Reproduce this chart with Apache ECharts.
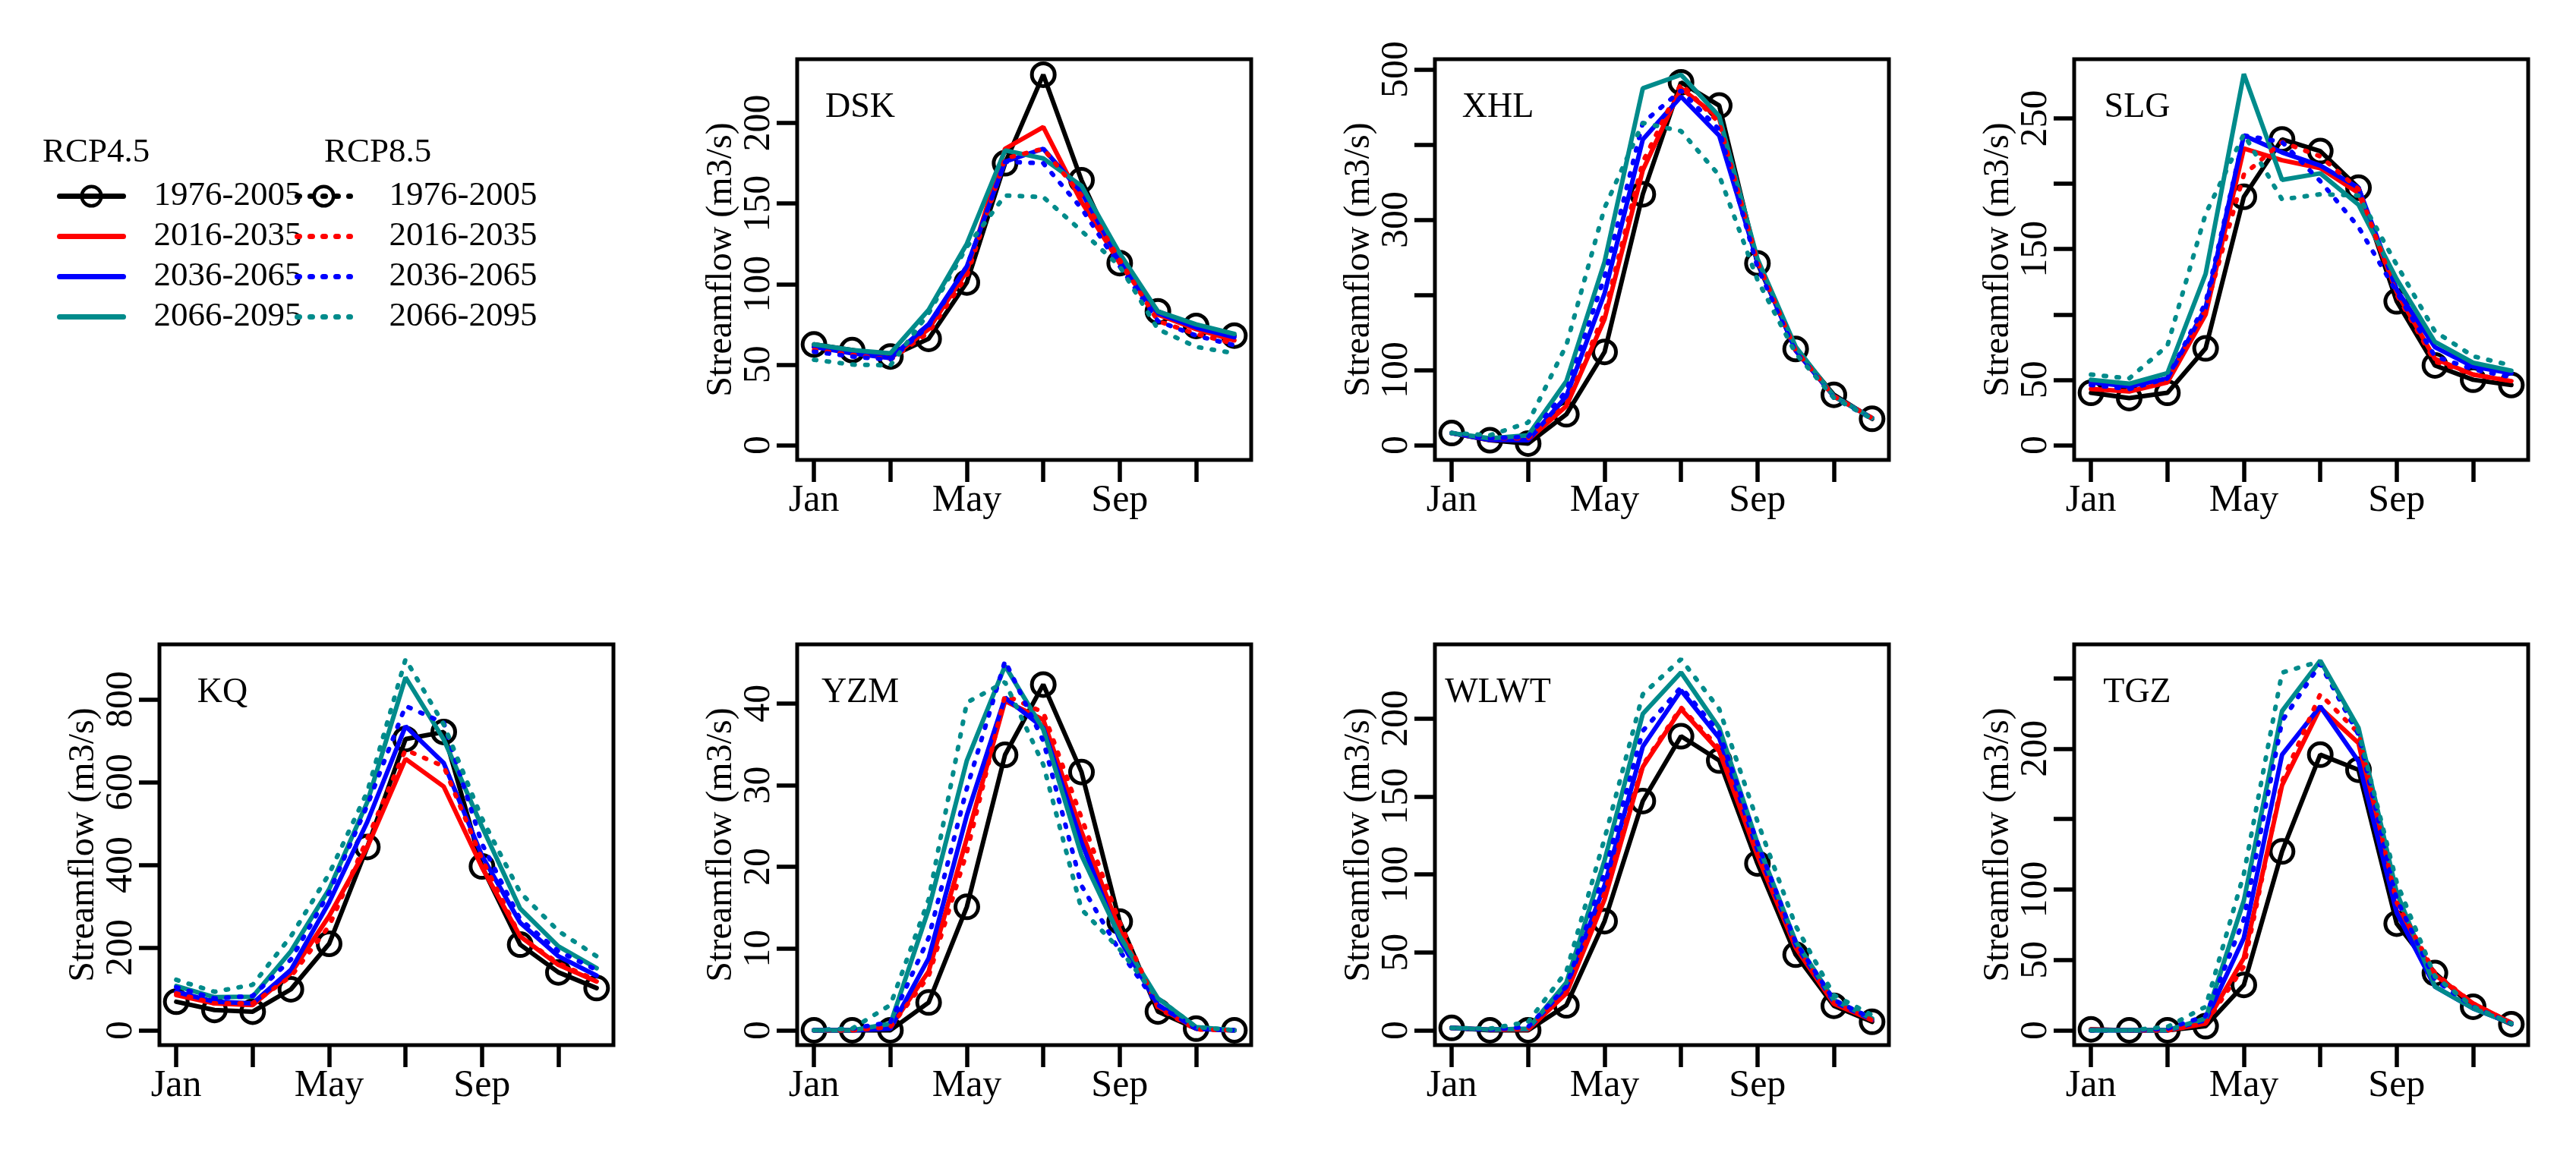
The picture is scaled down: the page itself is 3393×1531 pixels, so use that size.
<!DOCTYPE html>
<html>
<head>
<meta charset="utf-8">
<script src="https://cdn.jsdelivr.net/npm/echarts@6/dist/echarts.min.js"></script>
<style>
  html, body { margin: 0; padding: 0; background: #fff; }
  #chart { width: 3393px; height: 1531px; }
</style>
</head>
<body>
<div id="chart"></div>
<script>
// months on the x axis
var months = [1, 2, 3, 4, 5, 6, 7, 8, 9, 10, 11, 12];
var monthNames = ['Jan', 'Feb', 'Mar', 'Apr', 'May', 'Jun', 'Jul', 'Aug', 'Sep', 'Oct', 'Nov', 'Dec'];
var xTicks = [1, 3, 5, 7, 9, 11];
var xLabelAt = [1, 5, 9];

var stations = ['DSK', 'XHL', 'SLG', 'KQ', 'YZM', 'WLWT', 'TGZ'];

// legend names: scenario + period
var names45 = ['RCP4.5 1976-2005', 'RCP4.5 2016-2035', 'RCP4.5 2036-2065', 'RCP4.5 2066-2095'];
var names85 = ['RCP8.5 1976-2005', 'RCP8.5 2016-2035', 'RCP8.5 2036-2065', 'RCP8.5 2066-2095'];

// rows: baseline, RCP4.5 (2016-2035, 2036-2065, 2066-2095), RCP8.5 (2016-2035, 2036-2065, 2066-2095)
var dsk = [
  [62.5, 59, 55, 66, 101, 175, 230, 164.5, 113, 83, 74, 68],
  [61, 58, 54, 72, 108, 184, 197.5, 151, 113, 81, 72, 65],
  [61, 57, 54, 75, 111, 176, 184, 157, 115, 82, 73, 67],
  [62.5, 59, 57, 84, 125, 183, 178, 161, 119, 83, 75, 69],
  [59, 56, 53, 70, 105, 178, 184, 155, 115, 77, 69, 63],
  [58, 55, 53, 74, 111, 176, 175, 147, 111, 77, 68, 62],
  [53, 50, 49.5, 82, 123, 155, 154, 133, 111, 72, 61, 57]
];
var xhl = [
  [16, 6.5, 2, 41, 124, 334, 483, 452, 242, 128, 67, 35],
  [16, 7, 7, 52, 168, 366, 475, 435, 246, 126, 65, 36],
  [16, 7, 6.5, 65, 202, 407, 464, 412, 244, 126, 65, 36],
  [16, 9, 13, 85, 244, 475, 493, 438, 248, 131, 65, 36],
  [16, 9, 9, 54, 176, 377, 481, 429, 244, 126, 65, 36],
  [16, 9, 11, 72, 224, 429, 472, 420, 237, 124, 63, 35],
  [16, 13, 30, 133, 316, 429, 418, 359, 220, 122, 63, 35]
];
var slg = [
  [40, 36, 40, 74, 190, 234, 225, 197, 110, 61, 50, 46],
  [43, 41, 48, 100, 227, 218, 212, 193, 117, 66, 54, 49],
  [48, 45, 51, 105, 237, 224, 214, 197, 119, 75, 60, 55],
  [50, 47, 55, 131, 284, 203, 208, 184, 127, 79, 63, 57],
  [46, 42, 49, 104, 207, 232, 221, 196, 115, 64, 54, 49],
  [46, 43, 51, 109, 237, 232, 202, 167, 117, 68, 58, 52],
  [54, 51, 76, 177, 238, 188, 192, 191, 138, 87, 68, 61]
];
var kq = [
  [69, 49, 45, 99, 209, 443, 704, 721, 396, 207, 140, 102],
  [85, 65, 61, 138, 276, 443, 656, 589, 394, 227, 158, 118],
  [93, 69, 65, 146, 309, 504, 735, 646, 422, 260, 179, 132],
  [107, 80, 81, 191, 341, 552, 853, 703, 492, 294, 203, 150],
  [89, 65, 65, 130, 252, 463, 678, 638, 414, 227, 162, 120],
  [104, 77, 83, 171, 333, 544, 784, 743, 451, 268, 191, 146],
  [122, 93, 110, 227, 378, 577, 897, 739, 512, 333, 240, 179]
];
var yzm = [
  [0, 0, 0, 3.4, 15.1, 33.7, 42.3, 31.6, 13.3, 2.3, 0.2, 0],
  [0, 0, 0.4, 7.2, 23.5, 40.3, 38, 24.3, 12.3, 2.9, 0.2, 0],
  [0, 0, 0.2, 8.8, 26.3, 40.7, 37, 23, 11.1, 3.1, 0.2, 0],
  [0, 0, 0.8, 14.8, 33, 44.6, 36.8, 21.4, 11.5, 3.9, 0.4, 0],
  [0, 0, 0.4, 6.6, 21.8, 41, 38.9, 26, 13.2, 2.7, 0.1, 0],
  [0, 0.2, 1, 11.3, 29.6, 45.2, 35.4, 17.7, 9.7, 3.1, 0.2, 0],
  [0, 0.2, 3.1, 16, 40.1, 42.6, 32.5, 14.8, 9.9, 3.9, 0.4, 0]
];
var wlwt = [
  [1.5, 0, 0, 16, 70, 147, 188.6, 173, 107, 48.5, 15.7, 5.4],
  [1.5, 0.4, 0.4, 23.7, 84, 169, 206, 179, 112, 53, 17, 6.5],
  [1.5, 0.4, 1, 28, 93, 182, 218, 187.5, 116, 55, 18.3, 6.9],
  [1.5, 0.4, 1, 30.6, 109, 203, 229.5, 194, 120, 57, 19.4, 7.5],
  [1.5, 0.4, 1, 24.8, 88, 170, 207, 181, 114, 54, 17.7, 6.5],
  [1.5, 0.4, 2.2, 28, 101, 192, 220, 191, 120, 56.5, 19.4, 7.5],
  [1.5, 1, 5.4, 37.7, 123, 215.5, 238, 206, 134, 67, 22.6, 9.7]
];
var tgz = [
  [0.7, 0, 0, 2.9, 32.2, 127, 195.7, 185, 75.7, 40.6, 16.7, 4.3],
  [0.5, 0, 0, 4.8, 51.3, 174, 229, 204, 84.7, 39.4, 19, 5.3],
  [0, 0, 0, 7.2, 65.6, 195.7, 230, 191, 83.5, 31, 15.5, 4.8],
  [0, 0, 0, 8.4, 92, 226.7, 262.5, 214.8, 97.9, 31, 15.5, 4.8],
  [0, 0, 0, 4.8, 45.3, 176.6, 238.7, 211, 90.7, 40.6, 19, 5.3],
  [0, 0, 1.2, 10, 78.8, 219.6, 260, 210, 93, 35.8, 16.7, 4.8],
  [0, 0, 2.4, 16.7, 111, 254, 262, 212.4, 105, 38.2, 16.7, 4.8]
];
var stationData = [dsk, xhl, slg, kq, yzm, wlwt, tgz];

// y axis: top of data range, tick values and which ticks get a label
var yTop = [230.4, 494, 284, 897, 45.4, 238, 263.5];
var yTicks = [
  [0, 50, 100, 150, 200],
  [0, 100, 200, 300, 400, 500],
  [0, 50, 100, 150, 200, 250],
  [0, 200, 400, 600, 800],
  [0, 10, 20, 30, 40],
  [0, 50, 100, 150, 200],
  [0, 50, 100, 150, 200, 250]
];
var yLabels = [
  [0, 50, 100, 150, 200],
  [0, 100, 300, 500],
  [0, 50, 150, 250],
  [0, 200, 400, 600, 800],
  [0, 10, 20, 30, 40],
  [0, 50, 100, 150, 200],
  [0, 50, 100, 200]
];

// panel placement (left, top) in px
var panelPos = [[1050, 78], [1890, 78], [2732, 78], [210, 849], [1050, 849], [1890, 849], [2732, 849]];
var panelW = 598, panelH = 528;

var FONT = 'Liberation Serif';
var DOT = [3, 14];
var LW = 6;
var lineKinds = [
  {name: names45[0], color: '#000000', dash: 'solid'},
  {name: names45[1], color: '#ff0000', dash: 'solid'},
  {name: names45[2], color: '#0000ff', dash: 'solid'},
  {name: names45[3], color: '#008b8b', dash: 'solid'},
  {name: names85[1], color: '#ff0000', dash: DOT},
  {name: names85[2], color: '#0000ff', dash: DOT},
  {name: names85[3], color: '#008b8b', dash: DOT}
];

var chart = echarts.init(document.getElementById('chart'), null, {renderer: 'canvas'});

var grids = [], xAxes = [], yAxes = [], series = [], graphics = [];

stations.forEach(function (st, i) {
  var pos = panelPos[i];
  grids.push({
    left: pos[0], top: pos[1], width: panelW, height: panelH,
    show: true, borderColor: '#000', borderWidth: 5, backgroundColor: 'transparent'
  });
  xAxes.push({
    type: 'value', gridIndex: i, min: 0.56, max: 12.44,
    axisLine: {show: false, onZero: false},
    splitLine: {show: false},
    axisTick: {show: true, customValues: xTicks, length: 29, lineStyle: {color: '#000', width: 5.5}},
    axisLabel: {
      customValues: xLabelAt, margin: 29, color: '#000', fontSize: 50, fontFamily: FONT,
      formatter: function (v) { return monthNames[Math.round(v) - 1]; }
    }
  });
  yAxes.push({
    type: 'value', gridIndex: i, min: -0.04 * yTop[i], max: 1.04 * yTop[i],
    axisLine: {show: false, onZero: false},
    splitLine: {show: false},
    axisTick: {show: true, customValues: yTicks[i], length: 27, lineStyle: {color: '#000', width: 5.5}},
    axisLabel: {customValues: yLabels[i], rotate: 90, margin: 25, color: '#000', fontSize: 50, fontFamily: FONT},
    name: 'Streamflow (m3/s)', nameLocation: 'middle', nameGap: 68,
    nameTextStyle: {color: '#000', fontSize: 48, fontFamily: FONT}
  });
  var rows = stationData[i];
  lineKinds.forEach(function (k, j) {
    series.push({
      type: 'line', name: k.name, xAxisIndex: i, yAxisIndex: i,
      data: months.map(function (m, n) { return [m, rows[j][n]]; }),
      symbol: j === 0 ? 'circle' : 'none', symbolSize: 30,
      itemStyle: {color: 'rgba(0,0,0,0)', borderColor: '#000', borderWidth: 5},
      lineStyle: {color: k.color, width: LW, type: k.dash, cap: 'round'},
      silent: true, animation: false, z: 2 + j
    });
  });
  graphics.push({
    type: 'text', x: pos[0] + 83, y: pos[1] + 64,
    style: {text: st, fontSize: 46, fontFamily: FONT, fill: '#000',
      textAlign: 'center', textVerticalAlign: 'middle', align: 'center', verticalAlign: 'middle'}
  });
});

// dummy series only for the dotted baseline entry of the RCP8.5 legend
series.push({
  type: 'line', name: names85[0], xAxisIndex: 0, yAxisIndex: 0, data: [],
  symbol: 'circle', lineStyle: {color: '#000', width: LW, type: DOT}
});

graphics.push({
  type: 'text', x: 56, y: 201,
  style: {text: 'RCP4.5', fontSize: 45, fontFamily: FONT, fill: '#000',
    textVerticalAlign: 'middle', verticalAlign: 'middle'}
});
graphics.push({
  type: 'text', x: 427, y: 201,
  style: {text: 'RCP8.5', fontSize: 45, fontFamily: FONT, fill: '#000',
    textVerticalAlign: 'middle', verticalAlign: 'middle'}
});

function legendItems(names, dash) {
  var colors = ['#000000', '#ff0000', '#0000ff', '#008b8b'];
  return names.map(function (n, j) {
    return {
      name: n,
      lineStyle: {color: colors[j], width: LW + 1, type: dash, cap: 'round', opacity: 1},
      itemStyle: j === 0
        ? {color: 'rgba(0,0,0,0)', borderColor: '#000', borderWidth: 4.5, opacity: 1}
        : {opacity: 0}
    };
  });
}
function stripScenario(name) { return name.split(' ')[1]; }

var option = {
  backgroundColor: '#fff',
  animation: false,
  grid: grids,
  xAxis: xAxes,
  yAxis: yAxes,
  series: series,
  legend: [
    {
      orient: 'vertical', left: 70, top: 231, itemWidth: 84, itemHeight: 32, itemGap: 8,
      selectedMode: false, data: legendItems(names45, 'solid'), formatter: stripScenario,
      textStyle: {color: '#000', fontSize: 45, fontFamily: FONT, lineHeight: 44, padding: [0, 0, 0, 35]}
    },
    {
      orient: 'vertical', left: 383, top: 231, itemWidth: 70, itemHeight: 32, itemGap: 8,
      selectedMode: false, data: legendItems(names85, DOT), formatter: stripScenario,
      textStyle: {color: '#000', fontSize: 45, fontFamily: FONT, lineHeight: 44, padding: [0, 0, 0, 46]}
    }
  ],
  graphic: graphics
};

chart.setOption(option);
window.addEventListener('resize', function () { chart.resize(); });
</script>
</body>
</html>
